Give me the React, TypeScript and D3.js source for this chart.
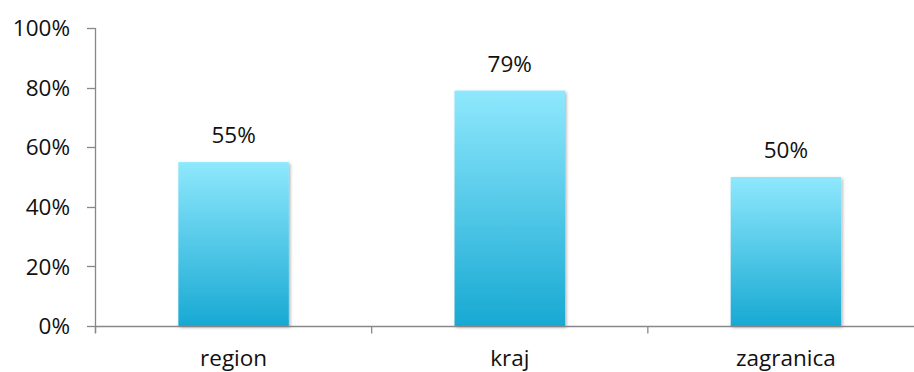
import React from "react";
import * as d3 from "d3";

const categories = ["region", "kraj", "zagranica"];
const values = [0.55, 0.79, 0.5];
const valueLabels = ["55%", "79%", "50%"];
const yTicks = [0, 0.2, 0.4, 0.6, 0.8, 1.0];

const W = 914;
const H = 372;
const FONT = "'Open Sans', 'Liberation Sans', sans-serif";
const FS = 22.5;

export default function App() {
  const x = d3.scaleBand<string>().domain(categories).range([95.5, 924]).paddingInner(0.6).paddingOuter(0.3);
  const y = d3.scaleLinear().domain([0, 1]).range([326, 28]);
  const step = x.step();
  const xTickPositions = categories.map((c) => (x(c) as number) - step * 0.3);
  xTickPositions.push((x(categories[categories.length - 1]) as number) + x.bandwidth() + step * 0.3);

  return (
    <svg width={W} height={H} style={{ position: "absolute", left: 0, top: 0, background: "#fff" }} fontFamily={FONT}>
      <defs>
        <linearGradient id="barGrad" x1="0" y1="0" x2="0" y2="1">
          <stop offset="0%" stopColor="#8FE8FD" />
          <stop offset="100%" stopColor="#18A9D3" />
        </linearGradient>
        <filter id="shadow" x="-10%" y="-10%" width="130%" height="130%">
          <feDropShadow dx="1.5" dy="1.5" stdDeviation="1.5" floodColor="#000" floodOpacity="0.3" />
        </filter>
      </defs>
      {/* y axis */}
      <line x1={95.5} x2={95.5} y1={y(1)} y2={y(0) + 7} stroke="#888" strokeWidth={1.3} />
      {yTicks.map((t) => (
        <g key={t}>
          <line x1={87} x2={95.5} y1={Math.round(y(t)) + 0.5} y2={Math.round(y(t)) + 0.5} stroke="#888" strokeWidth={1.3} />
          <text x={70} y={y(t)} dy="0.36em" textAnchor="end" fontSize={FS} fill="#111">
            {`${Math.round(t * 100)}%`}
          </text>
        </g>
      ))}
      {/* bars */}
      {categories.map((c, i) => (
        <rect
          key={c}
          x={x(c)}
          y={y(values[i])}
          width={x.bandwidth()}
          height={y(0) - y(values[i])}
          fill="url(#barGrad)"
          filter="url(#shadow)"
        />
      ))}
      {/* x axis */}
      <line x1={95.5} x2={W} y1={326.5} y2={326.5} stroke="#888" strokeWidth={1.3} />
      {xTickPositions.map((p, i) => (
        <line key={i} x1={p} x2={p} y1={326.5} y2={333.5} stroke="#888" strokeWidth={1.3} />
      ))}
      {categories.map((c, i) => (
        <g key={c}>
          <text x={(x(c) as number) + x.bandwidth() / 2} y={366} textAnchor="middle" fontSize={FS} fill="#111">
            {c}
          </text>
          <text x={(x(c) as number) + x.bandwidth() / 2} y={y(values[i]) - 19} textAnchor="middle" fontSize={FS} fill="#111">
            {valueLabels[i]}
          </text>
        </g>
      ))}
    </svg>
  );
}
